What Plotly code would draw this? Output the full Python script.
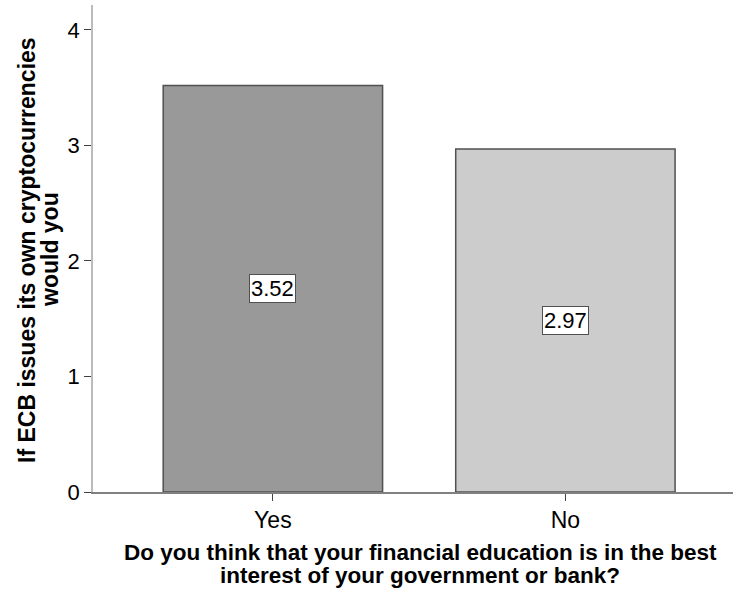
import plotly.graph_objects as go

categories = ["Yes", "No"]
values = [3.52, 2.97]
bar_colors = ["#999999", "#cccccc"]
y_ticks = [0, 1, 2, 3, 4]
x_title_lines = ["Do you think that your financial education is in the best",
                 "interest of your government or bank?"]
y_title_lines = ["If ECB issues its own cryptocurrencies", "would you"]

FONT = "Arial, Liberation Sans, sans-serif"

# plot area in pixels
L, R, T, B = 93, 733, 5, 492
W, H = R - L, B - T

def px(xp):
    return (xp - L) / W

def py(yp):
    return (B - yp) / H

fig = go.Figure()
fig.add_trace(go.Bar(
    x=categories, y=values, width=0.75,
    marker=dict(color=bar_colors, line=dict(color="#505050", width=1.5)),
    hoverinfo="skip",
))

for c, v in zip(categories, values):
    fig.add_annotation(
        x=c, y=v / 2, text=f"{v:.2f}", showarrow=False,
        font=dict(family=FONT, size=22, color="#000"),
        bgcolor="#ffffff", bordercolor="#505050", borderwidth=1, borderpad=1,
    )

for i, t in enumerate(x_title_lines):
    fig.add_annotation(
        xref="paper", yref="paper", x=px(420), y=py(552 + 23 * i),
        xanchor="center", yanchor="middle", text=f"<b>{t}</b>", showarrow=False,
        font=dict(family=FONT, size=22.5, color="#000"),
    )

for i, t in enumerate(y_title_lines):
    fig.add_annotation(
        xref="paper", yref="paper", x=px(27 + 23 * i), y=py(250),
        xanchor="center", yanchor="middle", text=f"<b>{t}</b>", showarrow=False,
        textangle=-90, font=dict(family=FONT, size=23, color="#000"),
    )

fig.update_layout(
    width=733, height=591,
    margin=dict(l=L, r=733 - R, t=T, b=591 - B, autoexpand=False),
    plot_bgcolor="#ffffff", paper_bgcolor="#ffffff",
    showlegend=False,
    font=dict(family=FONT, size=22, color="#000"),
    xaxis=dict(
        type="category", range=[-0.615, 1.573], automargin=False,
        showline=True, linecolor="#808080", linewidth=1.5,
        ticks="outside", ticklen=7, tickcolor="#404040", tickwidth=1,
        showgrid=False, zeroline=False,
        tickfont=dict(family=FONT, size=23, color="#000"),
    ),
    yaxis=dict(
        range=[0, 4.216], tickvals=y_ticks, automargin=False,
        showline=True, linecolor="#bbbbbb", linewidth=1.5,
        ticks="outside", ticklen=7, tickcolor="#404040", tickwidth=1,
        showgrid=False, zeroline=False,
        tickfont=dict(family=FONT, size=22, color="#000"),
    ),
)

fig.write_html("out.html", config={"displayModeBar": False},
               post_script="document.body.style.margin='0';")
